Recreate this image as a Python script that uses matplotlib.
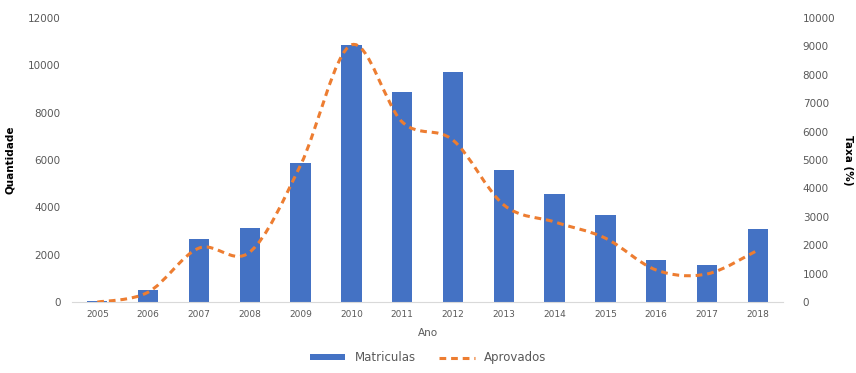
import matplotlib

matplotlib.use("Agg")
import matplotlib.pyplot as plt
import numpy as np
from matplotlib.path import Path
from matplotlib.patches import PathPatch
from matplotlib.lines import Line2D
from matplotlib.patches import Patch

years = ["2005", "2006", "2007", "2008", "2009", "2010", "2011",
         "2012", "2013", "2014", "2015", "2016", "2017", "2018"]
matriculas = [30, 500, 2660, 3130, 5870, 10860, 8870,
              9720, 5580, 4560, 3680, 1770, 1560, 3080]
aprovados = [0, 350, 1900, 1760, 4820, 9050, 6340,
             5700, 3420, 2820, 2250, 1130, 990, 1830]

BLUE = "#4472C4"
ORANGE = "#ED7D31"
GREY = "#595959"


def smooth_path(x, y, t=1 / 6):
    # Excel-style smoothed line: cubic Bezier through every point (Catmull-Rom tangents)
    x = np.asarray(x, float)
    y = np.asarray(y, float)
    verts = [(x[0], y[0])]
    codes = [Path.MOVETO]
    n = len(x)
    for i in range(n - 1):
        p0 = np.array([x[max(i - 1, 0)], y[max(i - 1, 0)]])
        p1 = np.array([x[i], y[i]])
        p2 = np.array([x[i + 1], y[i + 1]])
        p3 = np.array([x[min(i + 2, n - 1)], y[min(i + 2, n - 1)]])
        c1 = p1 + (p2 - p0) * t
        c2 = p2 - (p3 - p1) * t
        verts += [tuple(c1), tuple(c2), tuple(p2)]
        codes += [Path.CURVE4] * 3
    return Path(verts, codes)


fig = plt.figure(figsize=(8.56, 3.73), dpi=100)
ax = fig.add_axes([0.084, 0.190, 0.831, 0.762])
x = np.arange(len(years))
ax.bar(x, matriculas, width=0.4, color=BLUE, zorder=2)
ax.set_xlim(-0.5, len(years) - 0.5)
ax.set_ylim(0, 12000)
ax.set_yticks(range(0, 12001, 2000))
ax.set_xticks(x)
ax.set_xticklabels(years)
for s in ["top", "right", "left"]:
    ax.spines[s].set_visible(False)
ax.spines["bottom"].set_color("#D9D9D9")
ax.tick_params(axis="x", length=0, labelsize=6.5, labelcolor=GREY, pad=6)
ax.tick_params(axis="y", length=0, labelsize=7.5, labelcolor=GREY, pad=8)
ax.set_ylabel("Quantidade", fontsize=7.5, fontweight="bold")
ax.yaxis.set_label_coords(-0.080, 0.5)
ax.set_xlabel("Ano", fontsize=7.5, color=GREY, labelpad=6)

ax2 = ax.twinx()
ax2.set_ylim(0, 10000)
ax2.set_yticks(range(0, 10001, 1000))
for s in ["top", "right", "left", "bottom"]:
    ax2.spines[s].set_visible(False)
ax2.tick_params(axis="y", length=0, labelsize=7.5, labelcolor=GREY, pad=14)
ax2.add_patch(PathPatch(smooth_path(x, aprovados), fill=False, edgecolor=ORANGE,
                        lw=2.2, linestyle=(0, (2.2, 1.6)), zorder=3))
ax2.set_ylabel("Taxa (%)", fontsize=7.5, fontweight="bold", rotation=270, va="center")
ax2.yaxis.set_label_coords(1.091, 0.5)

handles = [Patch(facecolor=BLUE, edgecolor="none"),
           Line2D([], [], color=ORANGE, lw=2.2, linestyle=(0, (2.2, 1.6)))]
fig.legend(handles, ["Matriculas", "Aprovados"], loc="lower center", ncol=2,
           bbox_to_anchor=(0.5, -0.005), frameon=False, fontsize=8.5,
           labelcolor=GREY, handlelength=3.0, handleheight=0.45, columnspacing=2.0)

fig.savefig("out.png", dpi=100)
